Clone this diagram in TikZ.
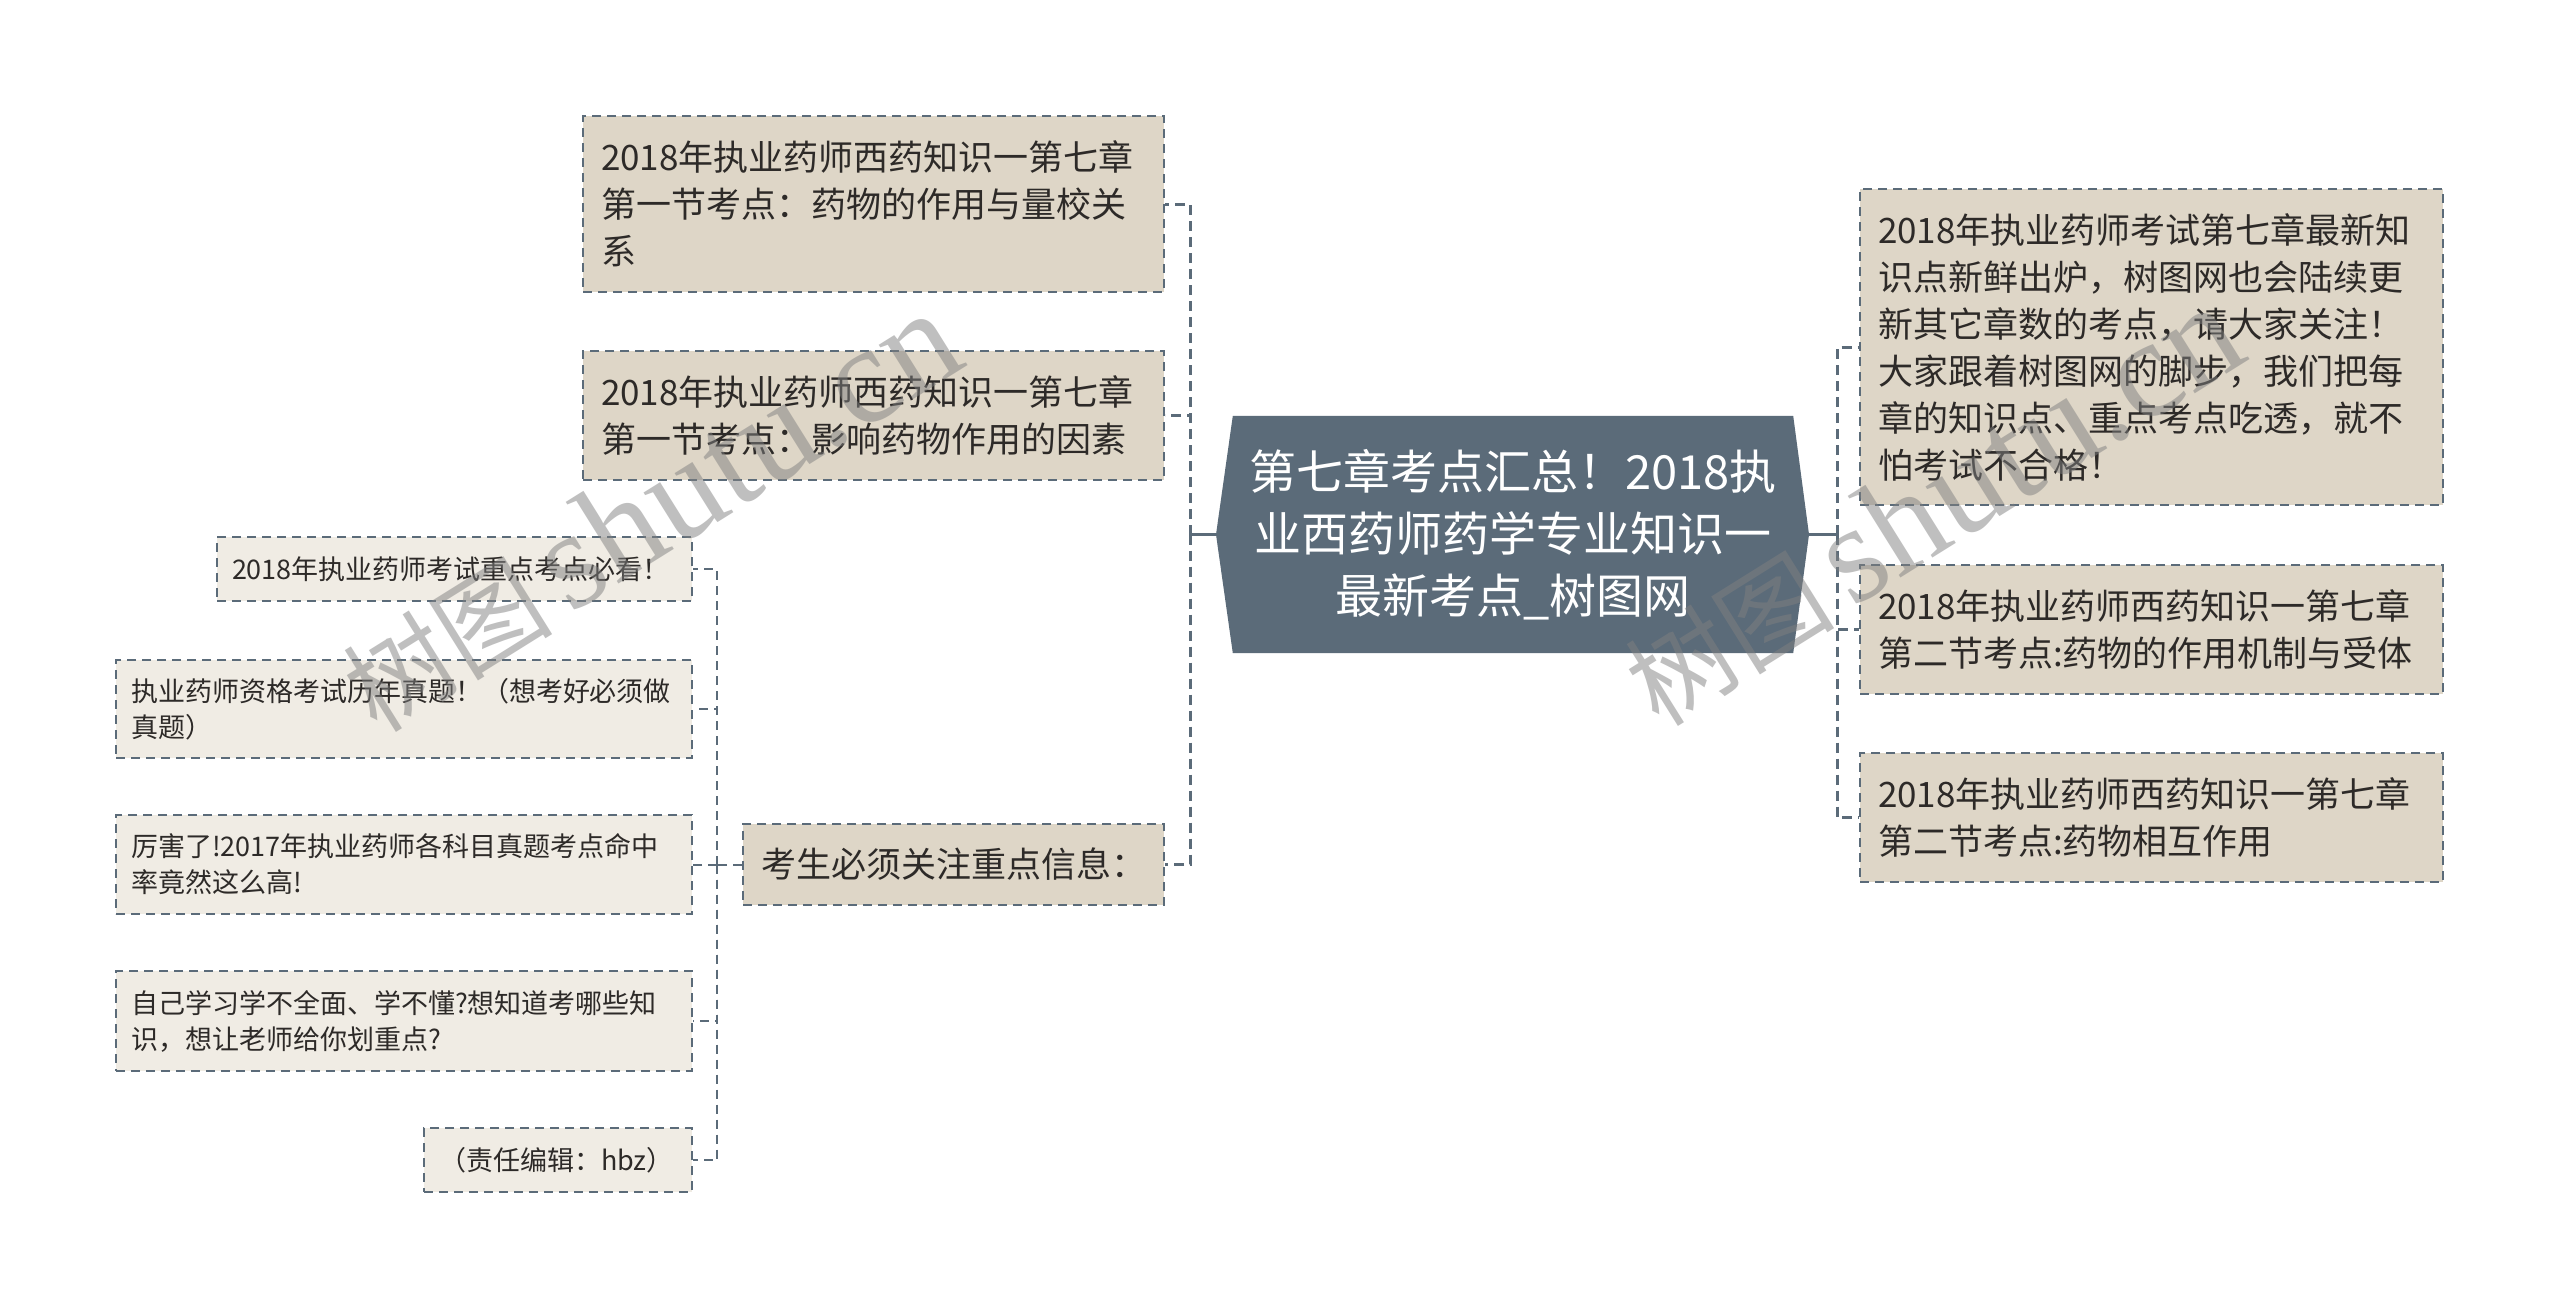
\documentclass[tikz,border=0pt]{standalone}
\usepackage{fontspec}
\setmainfont{Noto Sans CJK SC}
\newfontfamily\wmlatin{Liberation Serif}
\usetikzlibrary{backgrounds}
\definecolor{slate}{RGB}{91,107,121}
\definecolor{beige}{RGB}{222,214,199}
\definecolor{light}{RGB}{240,236,228}
\definecolor{txt}{RGB}{45,42,40}
\tikzset{
  box/.style={draw=slate, line width=2pt, dash pattern=on 9pt off 6pt, fill=beige, text=txt,
    align=left, inner ysep=0pt, inner xsep=18pt, font=\fontsize{35}{47}\selectfont},
  sbox/.style={box, fill=light, inner xsep=15pt, font=\fontsize{27}{36}\selectfont},
  centralbox/.style={text=white, align=center, inner sep=0pt, text width=540pt,
    minimum width=560pt, minimum height=237pt, font=\fontsize{47}{62}\selectfont},
  mainline/.style={draw=slate, line width=3pt, dash pattern=on 10pt off 6pt},
  subline/.style={draw=slate, line width=2pt, dash pattern=on 9pt off 6pt},
  wm/.style={text=black!50, opacity=0.5, inner sep=0pt, font=\fontsize{105}{105}\selectfont},
}
\begin{document}
\begin{tikzpicture}[x=1pt, y=-1pt]
\useasboundingbox (0,0) rectangle (2560,1309);

% central
\node[centralbox] (c) at (1513,534.5) {第七章考点汇总！2018执\\业西药师药学专业知识一\\最新考点\_树图网};

% left main children
\node[box, text width=545pt, minimum width=581pt, minimum height=176pt] (l1) at (873.5,204)
  {2018年执业药师西药知识一第七章\\第一节考点：药物的作用与量校关\\系};
\node[box, text width=545pt, minimum width=581pt, minimum height=129pt] (l2) at (873.5,415.5)
  {2018年执业药师西药知识一第七章\\第一节考点：影响药物作用的因素};
\node[box, text width=385pt, minimum width=421pt, minimum height=81pt] (l3) at (953.5,864.5)
  {考生必须关注重点信息：};

% right main children
\node[box, text width=547pt, minimum width=583pt, minimum height=316pt] (r1) at (2151.5,347)
  {2018年执业药师考试第七章最新知\\识点新鲜出炉，树图网也会陆续更\\新其它章数的考点，请大家关注！\\大家跟着树图网的脚步，我们把每\\章的知识点、重点考点吃透，就不\\怕考试不合格！};
\node[box, text width=547pt, minimum width=583pt, minimum height=129pt] (r2) at (2151.5,629.5)
  {2018年执业药师西药知识一第七章\\第二节考点:药物的作用机制与受体};
\node[box, text width=547pt, minimum width=583pt, minimum height=129pt] (r3) at (2151.5,817.5)
  {2018年执业药师西药知识一第七章\\第二节考点:药物相互作用};

% small children of l3
\node[sbox, text width=445pt, minimum width=475pt, minimum height=64pt] (s1) at (454.5,569)
  {2018年执业药师考试重点考点必看！};
\node[sbox, text width=546pt, minimum width=576pt, minimum height=98pt] (s2) at (404,709)
  {执业药师资格考试历年真题！（想考好必须做\\真题）};
\node[sbox, text width=546pt, minimum width=576pt, minimum height=99pt] (s3) at (404,864.5)
  {厉害了!2017年执业药师各科目真题考点命中\\率竟然这么高!};
\node[sbox, text width=546pt, minimum width=576pt, minimum height=100pt] (s4) at (404,1021)
  {自己学习学不全面、学不懂?想知道考哪些知\\识，想让老师给你划重点?};
\node[sbox, text width=238pt, minimum width=268pt, minimum height=64pt] (s5) at (558,1160)
  {（责任编辑：hbz）};

% connectors
\coordinate (ctl) at (1216,534.5);
\coordinate (ctr) at (1809,534.5);
\coordinate (cl) at (1190,534.5);
\coordinate (cr) at (1837,534.5);
\coordinate (sl) at (717,864.5);

\draw[slate, line width=3pt] (ctl) -- (cl);
\draw[slate, line width=3pt] (ctr) -- (cr);
\draw[mainline] (cl) |- (l1.east);
\draw[mainline] (cl) |- (l2.east);
\draw[mainline] (cl) |- (l3.east);
\draw[mainline] (cr) |- (r1.west);
\draw[mainline] (cr) |- (r2.west);
\draw[mainline] (cr) |- (r3.west);

\draw[subline] (l3.west) -- (sl);
\draw[subline] (sl) |- (s1.east);
\draw[subline] (sl) |- (s2.east);
\draw[subline] (sl) |- (s3.east);
\draw[subline] (sl) |- (s4.east);
\draw[subline] (sl) |- (s5.east);

% watermarks
\node[wm, rotate=32] (w1) at (650,512) {树图\,{\wmlatin\fontsize{140}{140}\selectfont shutu.cn}};
\node[wm, rotate=32] (w2) at (1932,506) {树图\,{\wmlatin\fontsize{140}{140}\selectfont shutu.cn}};

\begin{scope}[on background layer]
  \fill[white] (0,0) rectangle (2560,1309);
  \fill[slate] (ctl) -- (c.north west) -- (c.north east) -- (ctr) -- (c.south east) -- (c.south west) -- cycle;
\end{scope}
\end{tikzpicture}
\end{document}
